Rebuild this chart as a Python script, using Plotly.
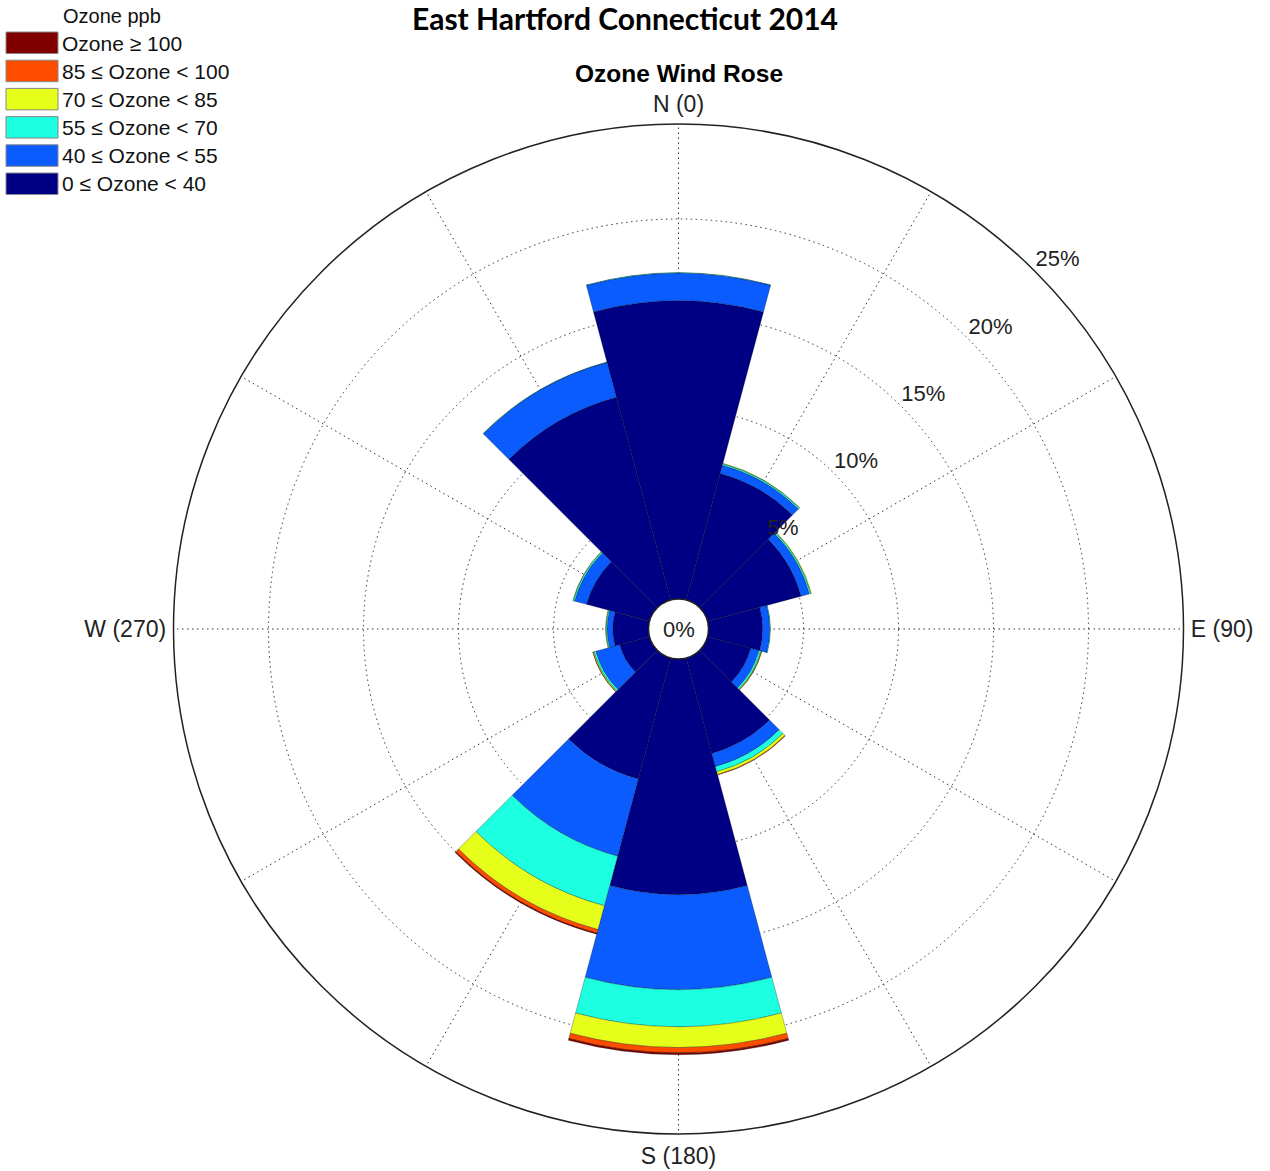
import plotly.graph_objects as go

# ---------------- data ----------------
directions = [0, 30, 60, 90, 120, 150, 180, 210, 240, 270, 300, 330]
bin_labels = ["0 \u2264 Ozone < 40", "40 \u2264 Ozone < 55", "55 \u2264 Ozone < 70",
              "70 \u2264 Ozone < 85", "85 \u2264 Ozone < 100", "Ozone \u2265 100"]
bin_colors = ["#000084", "#0a5cff", "#1cffe0", "#e6ff1a", "#ff4d00", "#800000"]

freq_0_40   = [15.7, 6.9, 5.1, 2.85, 2.36, 5.2, 12.4, 6.6, 1.63, 1.88, 3.43, 11.05]
freq_40_55  = [1.45, 0.45, 0.45, 0.38, 0.45, 0.72, 5.0, 4.2, 1.3, 0.3, 0.65, 1.9]
freq_55_70  = [0.02, 0.08, 0.08, 0.03, 0.10, 0.28, 1.95, 2.7, 0.10, 0.06, 0.08, 0.02]
freq_70_85  = [0.0, 0.02, 0.03, 0.0, 0.04, 0.15, 1.1, 1.3, 0.05, 0.02, 0.02, 0.0]
freq_85_100 = [0.0, 0.0, 0.0, 0.0, 0.01, 0.03, 0.28, 0.2, 0.02, 0.0, 0.0, 0.0]
freq_100up  = [0.0, 0.0, 0.0, 0.0, 0.0, 0.0, 0.1, 0.05, 0.0, 0.0, 0.0, 0.0]
series = [freq_0_40, freq_40_55, freq_55_70, freq_70_85, freq_85_100, freq_100up]

angle_ticks = [0, 30, 60, 90, 120, 150, 180, 210, 240, 270, 300, 330]
angle_text = ["N (0)", "", "", "E (90)", "", "", "S (180)", "", "", "W (270)", "", ""]
radial_ticks = [5, 10, 15, 20, 25]
radial_max = 25
label_bearing = 45

W, H = 1270, 1171
CX, CY, R = 678.5, 629, 505      # polar centre / radius in px
HOLE_PX = 30

def px(x):
    return x / W

def py(y):
    return 1 - y / H

fig = go.Figure()
for vals, lab, col in zip(series, bin_labels, bin_colors):
    fig.add_trace(go.Barpolar(
        r=vals, theta=directions, width=[30] * len(directions), name=lab,
        marker=dict(color=col, line=dict(color="rgba(0,0,0,0.45)", width=0.6)),
        showlegend=False))

# radial tick labels along the NE direction
fig.add_trace(go.Scatterpolar(
    r=radial_ticks, theta=[label_bearing] * len(radial_ticks),
    text=[f"{t}%" for t in radial_ticks], mode="text", textposition="top right",
    textfont=dict(family="Liberation Sans", size=22, color="#222"),
    cliponaxis=False, showlegend=False, hoverinfo="skip"))

grid_col = "#333333"
grid_dash = "1.5px,3.5px"
fig.update_layout(
    width=W, height=H, margin=dict(l=0, r=0, t=0, b=0),
    paper_bgcolor="white", plot_bgcolor="white",
    polar=dict(
        domain=dict(x=[px(CX - R), px(CX + R)], y=[py(CY + R), py(CY - R)]),
        hole=HOLE_PX / R,
        bgcolor="white",
        barmode="stack",
        angularaxis=dict(
            direction="clockwise", rotation=90,
            tickmode="array", tickvals=angle_ticks, ticktext=angle_text,
            showline=True, linecolor="#222", linewidth=1.5,
            showgrid=True, gridcolor=grid_col, gridwidth=1.3, griddash=grid_dash,
            ticks="outside", ticklen=2, tickcolor="rgba(255,255,255,0)",
            tickfont=dict(family="Liberation Sans", size=23, color="#222"),
            layer="above traces"),
        radialaxis=dict(
            range=[0, radial_max], tickmode="array", tickvals=radial_ticks,
            showticklabels=False, showline=False, ticks="",
            showgrid=True, gridcolor=grid_col, gridwidth=1.3, griddash=grid_dash,
            layer="above traces"),
    ),
)

annotations = [
    dict(text="East Hartford Connecticut 2014", x=px(625), y=py(18), xref="paper", yref="paper",
         showarrow=False, xanchor="center", yanchor="middle",
         font=dict(family="Lato", size=30, color="black", weight="bold")),
    dict(text="Ozone Wind Rose", x=px(679), y=py(73), xref="paper", yref="paper",
         showarrow=False, xanchor="center", yanchor="middle",
         font=dict(family="Liberation Sans", size=24.5, color="black", weight="bold")),
    dict(text="0%", x=px(CX), y=py(CY), xref="paper", yref="paper",
         showarrow=False, xanchor="center", yanchor="middle",
         font=dict(family="Liberation Sans", size=22, color="#222")),
    dict(text="Ozone ppb", x=px(61), y=py(16), xref="paper", yref="paper",
         showarrow=False, xanchor="left", yanchor="middle",
         font=dict(family="Liberation Sans", size=20, color="#111")),
]
shapes = []
for i, (lab, col) in enumerate(zip(reversed(bin_labels), reversed(bin_colors))):
    top = 32 + 28.2 * i
    shapes.append(dict(type="rect", xref="paper", yref="paper",
                       x0=px(6), x1=px(58), y0=py(top + 21.5), y1=py(top),
                       fillcolor=col, line=dict(color="#888", width=1)))
    annotations.append(dict(text=lab, x=px(60), y=py(top + 11), xref="paper", yref="paper",
                            showarrow=False, xanchor="left", yanchor="middle",
                            font=dict(family="Liberation Sans", size=21, color="#111")))

fig.update_layout(annotations=annotations, shapes=shapes)
fig.write_html("out.html")
